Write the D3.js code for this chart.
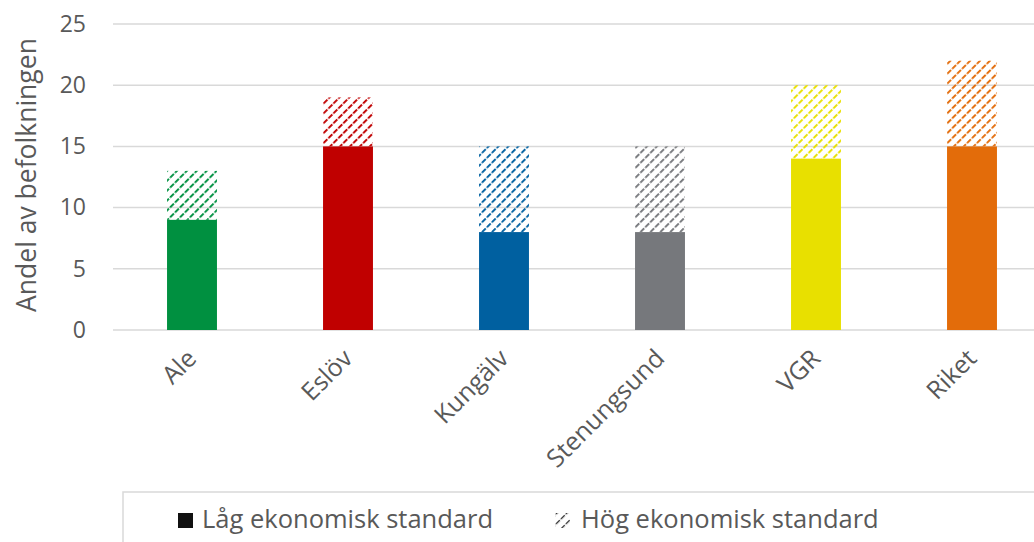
<!DOCTYPE html>
<html><head><meta charset="utf-8">
<script src="https://cdn.jsdelivr.net/npm/d3@7"></script>
<style>body{margin:0;background:#fff;overflow:hidden}svg{display:block}</style>
</head><body>
<svg id="c" width="1034" height="542"></svg>
<script>
const categories = ["Ale","Eslöv","Kungälv","Stenungsund","VGR","Riket"];
const lowValues  = [9, 15, 8, 8, 14, 15];   // Låg ekonomisk standard
const highValues = [4, 4, 7, 7, 6, 7];      // Hög ekonomisk standard (stacked)
const colors = ["#009040","#c00000","#0060a0","#76787c","#e8e000","#e36c0a"];
const yTicks = [0,5,10,15,20,25];
const seriesNames = ["Låg ekonomisk standard","Hög ekonomisk standard"];

const svg = d3.select("#c");
const x = d3.scaleBand().domain(categories).range([114,1050]).paddingInner(0.68).paddingOuter(0.34);
const y = d3.scaleLinear().domain([0,25]).range([330,24]);
const defs = svg.append("defs");
function hatch(id, col, w){
  const p = defs.append("pattern").attr("id",id).attr("patternUnits","userSpaceOnUse")
    .attr("width",7).attr("height",7).attr("patternTransform","rotate(45)");
  p.append("line").attr("x1",0).attr("y1",0).attr("x2",0).attr("y2",7)
    .attr("stroke",col).attr("stroke-width",w).attr("stroke-dasharray","5.5 1.5");
}
colors.forEach((c,i)=>hatch("h"+i,c,3.8));
hatch("hk","#222",2.5);

// grid
svg.append("g").selectAll("line").data(yTicks).join("line")
  .attr("x1",113).attr("x2",1034).attr("y1",d=>y(d)).attr("y2",d=>y(d))
  .attr("stroke","#d9d9d9").attr("stroke-width",1.5);

// y axis labels
const ya = svg.append("g").attr("transform","translate(86,0)")
  .call(d3.axisLeft(y).tickValues(yTicks).tickSize(0).tickPadding(0));
ya.select(".domain").remove();
ya.selectAll("text").attr("fill","#595959").style("font-family","'Open Sans',sans-serif").style("font-size","23px");

svg.append("text").attr("transform","translate(36,175) rotate(-90)").attr("text-anchor","middle")
  .attr("fill","#595959").style("font-family","'Open Sans',sans-serif").style("font-size","26.5px")
  .text("Andel av befolkningen");

// bars
const bw = x.bandwidth();
svg.append("g").selectAll("rect").data(categories).join("rect")
  .attr("x",d=>x(d)).attr("width",bw)
  .attr("y",(d,i)=>y(lowValues[i])).attr("height",(d,i)=>y(0)-y(lowValues[i]))
  .attr("fill",(d,i)=>colors[i]);
svg.append("g").selectAll("rect").data(categories).join("rect")
  .attr("x",d=>x(d)).attr("width",bw)
  .attr("y",(d,i)=>y(lowValues[i]+highValues[i])).attr("height",(d,i)=>y(lowValues[i])-y(lowValues[i]+highValues[i]))
  .attr("fill",(d,i)=>"url(#h"+i+")");

// x labels
const xa = svg.append("g").attr("transform","translate(0,330)")
  .call(d3.axisBottom(x).tickSize(0).tickPadding(0));
xa.select(".domain").remove();
xa.selectAll("text").attr("text-anchor","end").attr("dy",0)
  .attr("transform","translate(6,30) rotate(-45)")
  .attr("fill","#595959").style("font-family","'Open Sans',sans-serif").style("font-size","25px");

// legend
svg.append("rect").attr("x",123).attr("y",492).attr("width",1000).attr("height",100)
  .attr("fill","#fff").attr("stroke","#d9d9d9").attr("stroke-width",1.5);
const lg = svg.append("g").style("font-family","'Open Sans',sans-serif").style("font-size","25.5px").attr("fill","#595959");
lg.append("rect").attr("x",178).attr("y",513).attr("width",15).attr("height",15).attr("fill","#111");
lg.append("text").attr("x",202).attr("y",528).text(seriesNames[0]);
lg.append("rect").attr("x",555).attr("y",513).attr("width",15).attr("height",15).attr("fill","url(#hk)");
lg.append("text").attr("x",581).attr("y",528).text(seriesNames[1]);
</script>
</body></html>
